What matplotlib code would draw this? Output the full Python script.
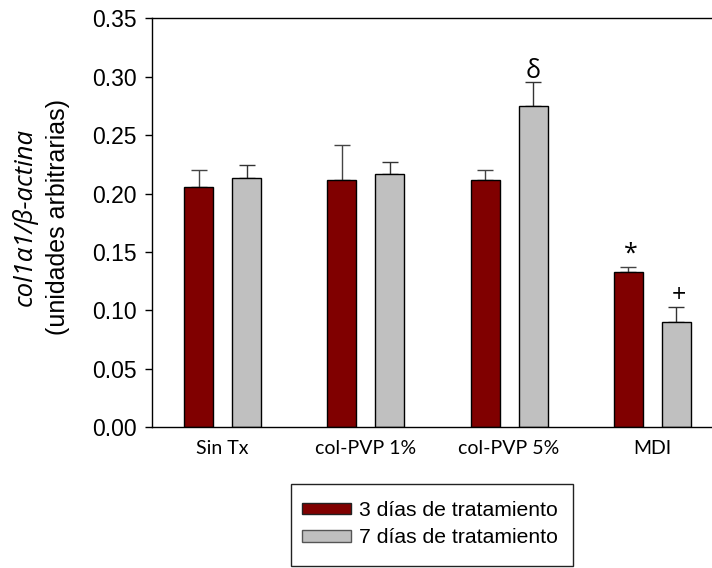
import matplotlib
matplotlib.use("Agg")
import matplotlib.pyplot as plt
from matplotlib.patches import Patch, Rectangle
import numpy as np

categories = ["Sin Tx", "col-PVP 1%", "col-PVP 5%", "MDI"]
series_names = ["3 días de tratamiento", "7 días de tratamiento"]
vals_3d = [0.2057, 0.2113, 0.2113, 0.1329]
err_3d = [0.0143, 0.0306, 0.0092, 0.0045]
vals_7d = [0.2131, 0.2165, 0.2747, 0.0904]
err_7d = [0.0114, 0.0105, 0.0211, 0.0128]
# significance marks: (category index, series index, symbol)
marks = [(2, 1, "δ"), (3, 0, "*"), (3, 1, "+")]
yticks = [0.00, 0.05, 0.10, 0.15, 0.20, 0.25, 0.30, 0.35]

c_red = "#800000"
c_gray = "#C0C0C0"

fig = plt.figure(figsize=(7.12, 5.68), dpi=100)
ax = fig.add_axes([0.2131, 0.2477, 0.7869, 0.7201])

x = np.arange(len(categories))
off = 0.1676
w = 0.2025
ax.bar(x - off, vals_3d, w, color=c_red, edgecolor="black", linewidth=1.0, zorder=2)
ax.bar(x + off, vals_7d, w, color=c_gray, edgecolor="black", linewidth=1.0, zorder=2)
ax.errorbar(x - off, vals_3d, yerr=[np.zeros(len(x)), err_3d], fmt="none",
            ecolor="#444444", elinewidth=1.0, capsize=6, capthick=1.0, zorder=1)
ax.errorbar(x + off, vals_7d, yerr=[np.zeros(len(x)), err_7d], fmt="none",
            ecolor="#333333", elinewidth=1.0, capsize=6, capthick=1.0, zorder=1)

series_vals = [vals_3d, vals_7d]
series_err = [err_3d, err_7d]
offsets = {"δ": 7, "*": 0, "+": -1}
for ci, si, sym in marks:
    xx = x[ci] + (-off if si == 0 else off)
    yy = series_vals[si][ci] + series_err[si][ci]
    ax.annotate(sym, (xx, yy), xytext=(2 if sym != "δ" else 0, offsets[sym]),
                textcoords="offset points",
                ha="center", va="center" if sym == "δ" else "bottom",
                fontsize=18, family=["Open Sans", "DejaVu Sans"])

ax.set_xlim(-0.496, 3.417)
ax.set_ylim(0, 0.35)
ax.set_yticks(yticks)
ax.set_yticklabels([f"{t:.2f}" for t in yticks], family="Liberation Sans", fontsize=16.5)
ax.set_xticks(x)
ax.set_xticklabels(categories, family="Lato", fontsize=14)
ax.tick_params(axis="x", length=0, pad=9)
ax.tick_params(axis="y", length=5, width=1, pad=6, direction="out")
ax.spines["right"].set_visible(False)
for s in ["left", "top", "bottom"]:
    ax.spines[s].set_linewidth(1.0)

fig.text(0.0351, 0.618, "col1α1/β-actina", rotation=90, ha="center", va="center",
         fontsize=18.5, style="italic", family=["Open Sans", "DejaVu Sans"])
fig.text(0.0815, 0.618, "(unidades arbitrarias)", rotation=90, ha="center", va="center",
         fontsize=18, family="Liberation Sans")

# legend box
fig.patches.append(Rectangle((290.7 / 712, 2 / 568), (573 - 290.7) / 712, (566 - 484.3) / 568,
                             transform=fig.transFigure, fill=False, edgecolor="#222222",
                             linewidth=1.0))
handles = [Patch(facecolor=c_red, edgecolor="#222222", linewidth=1.0),
           Patch(facecolor=c_gray, edgecolor="#555555", linewidth=1.0)]
leg = fig.legend(handles, series_names, loc="upper left",
                 bbox_to_anchor=(302 / 712, 1 - 501 / 568), frameon=False,
                 prop={"family": "Liberation Sans", "size": 15.2},
                 handlelength=2.3, handleheight=0.48, handletextpad=0.4,
                 labelspacing=0.4, borderpad=0, borderaxespad=0)

fig.savefig("out.png", dpi=100)
